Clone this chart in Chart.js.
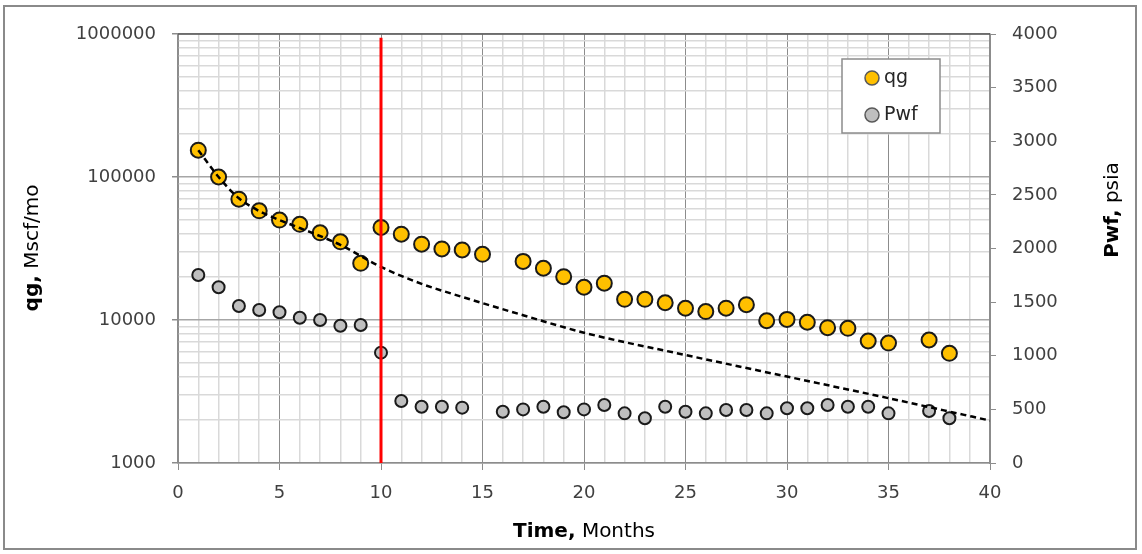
<!DOCTYPE html>
<html>
<head>
<meta charset="utf-8">
<script src="https://cdn.jsdelivr.net/npm/chart.js@4"></script>
<style>
  html, body { margin: 0; padding: 0; background: #ffffff; }
  #wrap { width: 1142px; height: 554px; }
</style>
</head>
<body>
<div id="wrap"><canvas id="declineChart" width="1142" height="554"></canvas></div>
<script>
// Gas rate (log scale) and flowing pressure vs time

// qg, Mscf/mo
const qgMonths = [1, 2, 3, 4, 5, 6, 7, 8, 9, 10, 11, 12, 13, 14, 15,
  17, 18, 19, 20, 21, 22, 23, 24, 25, 26, 27, 28, 29, 30, 31, 32, 33, 34, 35, 37, 38];
const qgValues = [154000, 100000, 70000, 58000, 50000, 46700, 40700, 35200, 24900, 44400,
  39800, 33900, 31400, 30900, 28800,
  25700, 23000, 20100, 16950, 18100, 13950, 13950, 13200, 12080, 11450, 12100, 12800,
  9880, 10100, 9640, 8840, 8750, 7130, 6900, 7250, 5850];

// Pwf, psia
const pwfMonths = [1, 2, 3, 4, 5, 6, 7, 8, 9, 10, 11, 12, 13, 14,
  16, 17, 18, 19, 20, 21, 22, 23, 24, 25, 26, 27, 28, 29, 30, 31, 32, 33, 34, 35, 37, 38];
const pwfValues = [1753, 1638, 1464, 1427, 1405, 1355, 1333, 1280, 1287, 1029,
  578, 525, 525, 516,
  478, 500, 525, 473, 500, 541, 463, 417, 525, 478, 463, 494, 494,
  463, 510, 510, 541, 525, 525, 463, 485, 417];

// dashed decline curve
const fitMonths = [1, 2, 3, 4, 5, 6, 8, 10, 12, 14, 17, 20, 25, 30, 35, 40];
const fitValues = [154000, 100000, 71000, 57800, 50000, 44000, 33500, 23500, 17900, 14500,
  10800, 8150, 5690, 4020, 2840, 1980];

// red marker at month 10
const redLineX = [10, 10];
const redLineY = [1000, 940000];

// tick labels
const qgTickLabels = [1000, 10000, 100000, 1000000];

const tickFont = { family: "DejaVu Sans", size: 18 };
const textColor = "#404040";

const toPoints = (xs, ys) => xs.map((x, i) => ({ x: x, y: ys[i] }));
const isDecade = (v) => qgTickLabels.includes(v);

// titles, frame and legend drawn on top
const decorPlugin = {
  id: "decor",
  afterDraw(chart) {
    const ctx = chart.ctx;
    const area = chart.chartArea;
    ctx.save();

    // top edge of plot area
    ctx.strokeStyle = "#595959";
    ctx.lineWidth = 1.5;
    ctx.beginPath();
    ctx.moveTo(area.left, area.top);
    ctx.lineTo(area.right, area.top);
    ctx.stroke();

    // outer frame
    ctx.strokeStyle = "#8a8a8a";
    ctx.lineWidth = 2;
    ctx.strokeRect(4, 6, 1132, 543);

    // mixed bold / regular title
    const mixed = (bold, rest, size) => {
      ctx.font = "bold " + size + "px 'DejaVu Sans'";
      const w1 = ctx.measureText(bold).width;
      ctx.font = size + "px 'DejaVu Sans'";
      const w2 = ctx.measureText(rest).width;
      const start = -(w1 + w2) / 2;
      ctx.fillStyle = "#000000";
      ctx.textAlign = "left";
      ctx.textBaseline = "alphabetic";
      ctx.font = "bold " + size + "px 'DejaVu Sans'";
      ctx.fillText(bold, start, 0);
      ctx.font = size + "px 'DejaVu Sans'";
      ctx.fillText(rest, start + w1, 0);
    };

    ctx.save();
    ctx.translate(584, 537);
    mixed("Time,", " Months", 20);
    ctx.restore();

    ctx.save();
    ctx.translate(38, 248);
    ctx.rotate(-Math.PI / 2);
    mixed("qg,", " Mscf/mo", 20);
    ctx.restore();

    ctx.save();
    ctx.translate(1118, 210);
    ctx.rotate(-Math.PI / 2);
    mixed("Pwf,", " psia", 20);
    ctx.restore();

    // legend box
    ctx.fillStyle = "#ffffff";
    ctx.fillRect(842, 59, 98, 74);
    ctx.strokeStyle = "#8c8c8c";
    ctx.lineWidth = 1.5;
    ctx.strokeRect(842, 59, 98, 74);
    const items = [
      { label: "qg", fill: "#ffc000", y: 78 },
      { label: "Pwf", fill: "#bfbfbf", y: 115 }
    ];
    items.forEach((it) => {
      ctx.beginPath();
      ctx.arc(872, it.y, 7, 0, Math.PI * 2);
      ctx.fillStyle = it.fill;
      ctx.fill();
      ctx.strokeStyle = "#595959";
      ctx.lineWidth = 1.5;
      ctx.stroke();
      ctx.fillStyle = "#262626";
      ctx.font = "19px 'DejaVu Sans'";
      ctx.textAlign = "left";
      ctx.textBaseline = "middle";
      ctx.fillText(it.label, 884, it.y);
    });

    ctx.restore();
  }
};

const chartCanvas = document.getElementById("declineChart");

new Chart(chartCanvas, {
  type: "scatter",
  data: {
    datasets: [
      {
        label: "limit",
        data: toPoints(redLineX, redLineY),
        yAxisID: "y",
        showLine: true,
        borderColor: "#ff0000",
        borderWidth: 3,
        pointRadius: 0
      },
      {
        label: "fit",
        data: toPoints(fitMonths, fitValues),
        yAxisID: "y",
        showLine: true,
        borderColor: "#000000",
        borderWidth: 2.5,
        borderDash: [6, 4],
        cubicInterpolationMode: "monotone",
        pointRadius: 0
      },
      {
        label: "qg",
        data: toPoints(qgMonths, qgValues),
        yAxisID: "y",
        backgroundColor: "#ffc000",
        borderColor: "#1a1a1a",
        borderWidth: 2,
        pointRadius: 7.5
      },
      {
        label: "Pwf",
        data: toPoints(pwfMonths, pwfValues),
        yAxisID: "y2",
        backgroundColor: "#bfbfbf",
        borderColor: "#1a1a1a",
        borderWidth: 2,
        pointRadius: 6
      }
    ]
  },
  options: {
    responsive: false,
    animation: false,
    layout: { padding: { top: 34, left: 0, right: 0, bottom: 0 } },
    plugins: {
      legend: { display: false },
      tooltip: { enabled: false }
    },
    scales: {
      x: {
        type: "linear",
        min: 0,
        max: 40,
        afterFit: (scale) => { scale.height = 91; },
        ticks: {
          stepSize: 1,
          autoSkip: false,
          maxRotation: 0,
          padding: 13,
          font: tickFont,
          color: textColor,
          callback: (v) => (v % 5 === 0 ? String(v) : "")
        },
        grid: {
          color: (c) => (c.tick && c.tick.value % 5 === 0 ? "#8c8c8c" : "#d9d9d9"),
          lineWidth: (c) => (c.tick && c.tick.value % 5 === 0 ? 1 : 1.5),
          tickColor: (c) => (c.tick && c.tick.value % 5 === 0 ? "#8c8c8c" : "rgba(0,0,0,0)"),
          tickLength: 7
        },
        border: { color: "#8c8c8c", width: 1.5 }
      },
      y: {
        type: "logarithmic",
        position: "left",
        min: 1000,
        max: 1000000,
        afterBuildTicks: (scale) => {
          const t = [];
          for (let d = 0; d < qgTickLabels.length - 1; d++) {
            for (let m = 1; m <= 9; m++) {
              t.push({ value: qgTickLabels[d] * m, major: m === 1 });
            }
          }
          t.push({ value: qgTickLabels[qgTickLabels.length - 1], major: true });
          scale.ticks = t;
        },
        afterFit: (scale) => { scale.width = 178; },
        ticks: {
          autoSkip: false,
          padding: 16,
          font: tickFont,
          color: textColor,
          callback: (v) => (isDecade(v) ? String(v) : "")
        },
        grid: {
          color: (c) => (c.tick && isDecade(c.tick.value) ? "#a6a6a6" : "#d9d9d9"),
          lineWidth: 1.5,
          tickColor: (c) => (c.tick && isDecade(c.tick.value) ? "#8c8c8c" : "rgba(0,0,0,0)"),
          tickLength: 6
        },
        border: { color: "#8c8c8c", width: 1.5 }
      },
      y2: {
        type: "linear",
        position: "right",
        min: 0,
        max: 4000,
        afterFit: (scale) => { scale.width = 152; },
        ticks: {
          stepSize: 500,
          padding: 16,
          font: tickFont,
          color: textColor,
          callback: (v) => String(v)
        },
        grid: {
          drawOnChartArea: false,
          color: "#8c8c8c",
          tickLength: 6
        },
        border: { color: "#8c8c8c", width: 1.5 }
      }
    }
  },
  plugins: [decorPlugin]
});
</script>
</body>
</html>
